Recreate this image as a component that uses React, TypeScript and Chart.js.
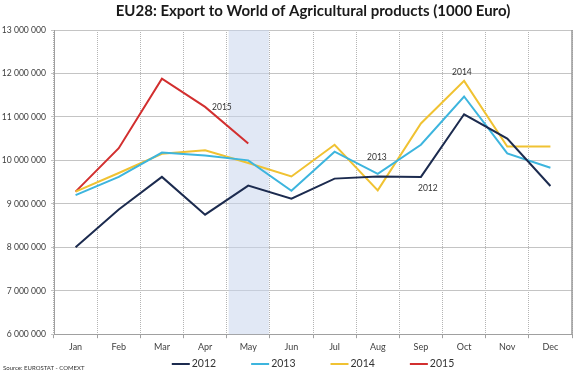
import React, { useEffect, useRef } from "react";
import { Chart, registerables } from "chart.js";

Chart.register(...registerables);

const months = ["Jan", "Feb", "Mar", "Apr", "May", "Jun", "Jul", "Aug", "Sep", "Oct", "Nov", "Dec"];
const y2012 = [8000000, 8870000, 9620000, 8750000, 9420000, 9120000, 9580000, 9630000, 9620000, 11060000, 10500000, 9410000];
const y2013 = [9200000, 9620000, 10180000, 10110000, 10000000, 9300000, 10200000, 9690000, 10360000, 11470000, 10160000, 9830000];
const y2014 = [9280000, 9710000, 10150000, 10230000, 9940000, 9630000, 10360000, 9310000, 10850000, 11830000, 10320000, 10320000];
const y2015 = [9280000, 10280000, 11880000, 11230000, 10390000];
const yTicks = [6000000, 7000000, 8000000, 9000000, 10000000, 11000000, 12000000, 13000000];
const highlightMonth = "May";
const seriesLabels = [
  { text: "2015", month: 3.39, value: 11230000 },
  { text: "2014", month: 8.95, value: 12020000 },
  { text: "2013", month: 6.98, value: 10080000 },
  { text: "2012", month: 8.16, value: 9360000 },
];

const FONT = "Lato, 'Open Sans', sans-serif";

const fmt = (v: number) => String(Math.round(v)).replace(/\B(?=(\d{3})+(?!\d))/g, " ");

export default function App() {
  const ref = useRef<HTMLCanvasElement | null>(null);

  useEffect(() => {
    document.body.style.margin = "0";
    const canvas = ref.current;
    if (!canvas) return;

    const bandPlugin = {
      id: "band",
      beforeDatasetsDraw(chart: any) {
        const { ctx, chartArea, scales } = chart;
        const xs = scales.x;
        const idx = months.indexOf(highlightMonth);
        const c = xs.getPixelForValue(idx);
        const w = xs.width / months.length;
        ctx.save();
        ctx.fillStyle = "rgba(200, 213, 236, 0.55)";
        ctx.fillRect(c - w / 2 + 2, chartArea.top, w - 3, chartArea.bottom - chartArea.top);
        ctx.restore();
      },
    };

    const extrasPlugin = {
      id: "extras",
      afterDatasetsDraw(chart: any) {
        const { ctx, chartArea, scales } = chart;
        ctx.save();
        ctx.strokeStyle = "#9a9a9a";
        ctx.lineWidth = 1.5;
        ctx.beginPath();
        ctx.moveTo(chartArea.right, chartArea.top);
        ctx.lineTo(chartArea.right, chartArea.bottom);
        ctx.stroke();
        ctx.fillStyle = "#333333";
        ctx.font = `8.5px ${FONT}`;
        ctx.textAlign = "center";
        ctx.textBaseline = "middle";
        seriesLabels.forEach((l) => {
          ctx.fillText(l.text, scales.x.getPixelForValue(l.month), scales.y.getPixelForValue(l.value));
        });
        ctx.restore();
      },
      afterDraw(chart: any) {
        const { ctx, chartArea } = chart;
        ctx.save();
        ctx.fillStyle = "#333333";
        ctx.font = `6px ${FONT}`;
        ctx.textAlign = "left";
        ctx.textBaseline = "middle";
        ctx.fillText("Source: EUROSTAT - COMEXT", 3, 368);
        ctx.font = `10.5px ${FONT}`;
        const lineW = 18;
        const gapText = 2;
        const gapItem = 35;
        const items = chart.data.datasets.map((d: any) => ({
          text: d.label,
          color: d.borderColor,
          w: lineW + gapText + ctx.measureText(d.label).width,
        }));
        const total = items.reduce((s: number, it: any) => s + it.w, 0) + gapItem * (items.length - 1);
        let x = (chartArea.left + chartArea.right) / 2 - total / 2;
        const y = 364;
        items.forEach((it: any) => {
          ctx.strokeStyle = it.color;
          ctx.lineWidth = 2;
          ctx.beginPath();
          ctx.moveTo(x, y);
          ctx.lineTo(x + lineW, y);
          ctx.stroke();
          ctx.fillStyle = "#333333";
          ctx.fillText(it.text, x + lineW + gapText, y);
          x += it.w + gapItem;
        });
        ctx.restore();
      },
    };

    const mk = (label: string, data: number[], color: string) => ({
      label,
      data,
      borderColor: color,
      backgroundColor: color,
      borderWidth: 2,
      pointRadius: 0,
      tension: 0,
      fill: false,
    });

    const chart = new Chart(canvas, {
      type: "line",
      data: {
        labels: months,
        datasets: [
          mk("2012", y2012, "#1c2b4f"),
          mk("2013", y2013, "#3db5de"),
          mk("2014", y2014, "#f0c232"),
          mk("2015", y2015, "#d22f2f"),
        ],
      },
      plugins: [bandPlugin, extrasPlugin],
      options: {
        animation: false,
        responsive: false,
        maintainAspectRatio: false,
        layout: { padding: { left: 0, right: 8, top: 2, bottom: 21 } },
        plugins: {
          title: {
            display: true,
            fullSize: false,
            text: "EU28: Export to World of Agricultural products (1000 Euro)",
            color: "#1a1a1a",
            font: { family: FONT, size: 15, weight: "bold" },
            padding: { top: 0, bottom: 10 },
          },
          legend: { display: false },
          tooltip: { enabled: false },
        },
        scales: {
          x: {
            offset: true,
            grid: {
              offset: true,
              color: "#b4b4b4",
              tickColor: "#a0a0a0",
              tickLength: 4,
              drawTicks: true,
            },
            border: { color: "#a0a0a0", width: 1, dash: [1, 1] },
            ticks: {
              color: "#404040",
              font: { family: FONT, size: 9 },
              padding: 3,
              maxRotation: 0,
            },
          },
          y: {
            min: 6000000,
            max: 13000000,
            afterBuildTicks: (scale: any) => {
              scale.ticks = yTicks.map((v) => ({ value: v }));
            },
            afterFit: (scale: any) => {
              scale.width = 54;
            },
            grid: {
              color: "#c4c4c4",
              tickLength: 3,
              tickColor: "#c4c4c4",
            },
            border: { color: "#a0a0a0", width: 1 },
            ticks: {
              color: "#404040",
              font: { family: FONT, size: 8.6 },
              padding: 5,
              callback: (v: any) => fmt(Number(v)),
            },
          },
        },
      },
    } as any);

    return () => chart.destroy();
  }, []);

  return (
    <div style={{ width: 580, height: 376 }}>
      <canvas ref={ref} width={580} height={376} style={{ width: 580, height: 376, display: "block" }} />
    </div>
  );
}
